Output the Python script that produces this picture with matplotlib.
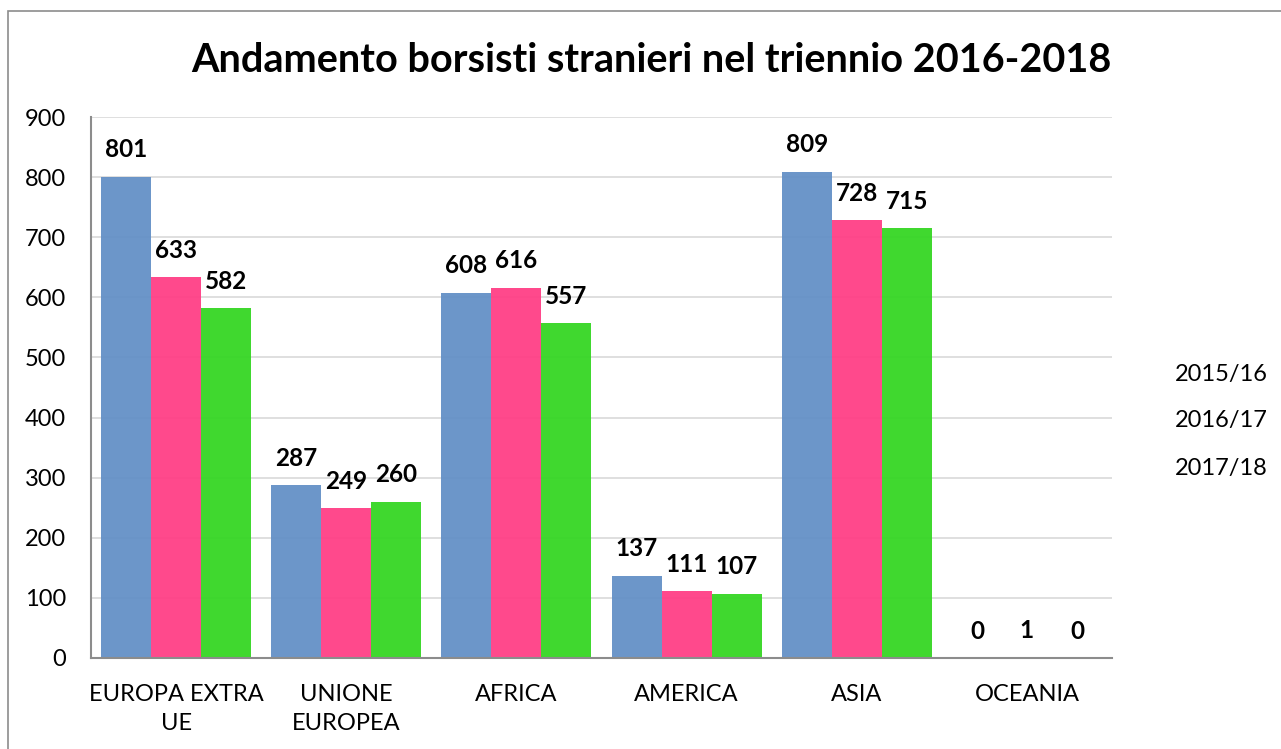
import matplotlib

matplotlib.use("Agg")
import matplotlib.pyplot as plt
import numpy as np
from matplotlib.patches import Rectangle

plt.rcParams["font.family"] = ["Lato", "DejaVu Sans"]

categories = ["EUROPA EXTRA\nUE", "UNIONE\nEUROPEA", "AFRICA", "AMERICA", "ASIA", "OCEANIA"]
series_names = ["2015/16", "2016/17", "2017/18"]
values_2015 = [801, 287, 608, 137, 809, 0]
values_2016 = [633, 249, 616, 111, 728, 1]
values_2017 = [582, 260, 557, 107, 715, 0]
colors = ["#6490c6", "#ff3f86", "#35d624"]

fig = plt.figure(figsize=(12.81, 7.49), dpi=100)
ax = fig.add_axes([91 / 1281, 1 - 658 / 749, (1112 - 91) / 1281, (658 - 117) / 749])

# outer chart frame
fig.patches.append(Rectangle((8 / 1281, -0.1), 1.2, 1 - 11 / 749 + 0.1,
                             transform=fig.transFigure, fill=False,
                             edgecolor="#8c8c8c", linewidth=1.2))

x = np.arange(len(categories))
width = 0.294
for i, (vals, color) in enumerate(zip([values_2015, values_2016, values_2017], colors)):
    pos = x + (i - 1) * width
    ax.bar(pos, vals, width=width, color=color, alpha=0.95, zorder=2, linewidth=0)
    for px, v in zip(pos, vals):
        ax.annotate(str(v), (px, v), xytext=(0, 11), textcoords="offset points",
                    ha="center", va="bottom", fontsize=17.5, fontweight="bold")

ax.set_xlim(-0.5, len(categories) - 0.5)
ax.set_ylim(0, 900)
ax.set_yticks(range(0, 901, 100))
ax.set_xticks(x)
ax.set_xticklabels(categories, fontsize=17, linespacing=1.45)
ax.tick_params(axis="y", labelsize=17, length=0, pad=18)
ax.tick_params(axis="x", length=0, pad=19)
ax.grid(axis="y", color="#d9d9d9", linewidth=1.2, zorder=0)
ax.set_axisbelow(True)
for side in ["top", "right"]:
    ax.spines[side].set_visible(False)
for side in ["left", "bottom"]:
    ax.spines[side].set_color("#8c8c8c")
    ax.spines[side].set_linewidth(1.5)

fig.text(651 / 1281, 1 - 60 / 749, "Andamento borsisti stranieri nel triennio 2016-2018",
         ha="center", va="center", fontsize=28.5, fontweight="bold")

# legend entries are plain text (no colour keys in the original)
for name, ypx in zip(series_names, [375, 421, 469]):
    fig.text(1221 / 1281, 1 - ypx / 749, name, ha="center", va="center", fontsize=17)

fig.savefig("out.png", dpi=100)
